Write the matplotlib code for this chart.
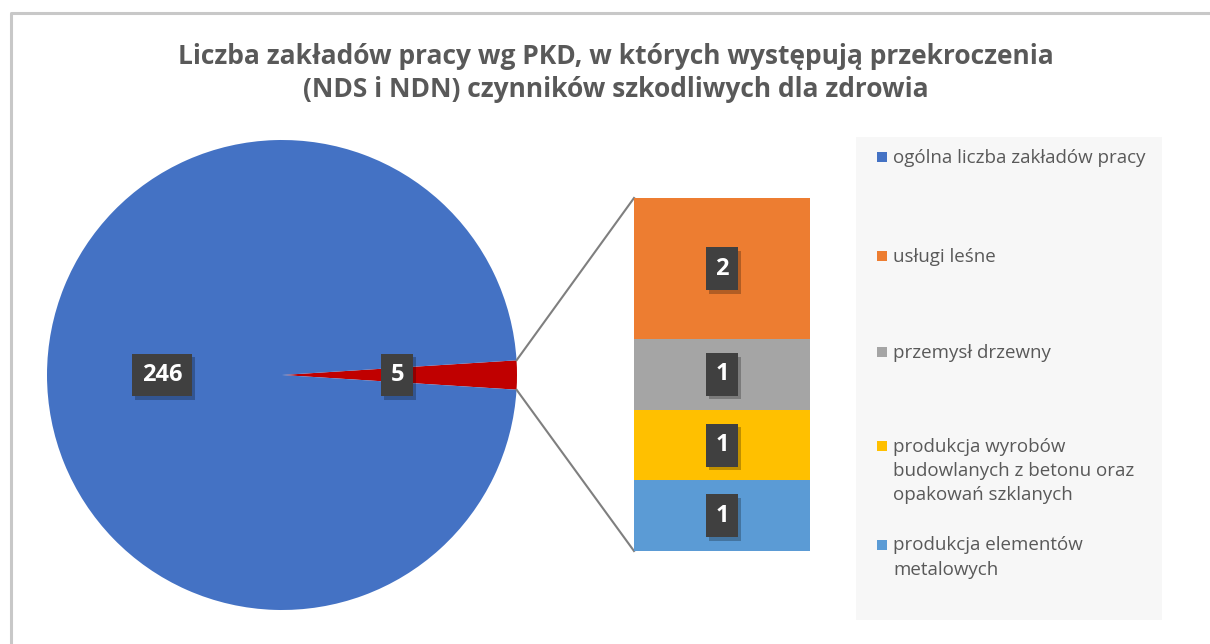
import numpy as np
import matplotlib.pyplot as plt
from matplotlib.patches import Rectangle
from matplotlib.lines import Line2D
import matplotlib.patheffects as pe

plt.rcParams["font.family"] = ["Open Sans", "DejaVu Sans"]

# --- dane ---
pie_labels = ["ogólna liczba zakładów pracy", "pozostałe"]
pie_values = [246, 5]

bar_labels = ["usługi leśne", "przemysł drzewny",
              "produkcja wyrobów\nbudowlanych z betonu oraz\nopakowań szklanych",
              "produkcja elementów\nmetalowych"]
bar_values = [2, 1, 1, 1]

title = ("Liczba zakładów pracy wg PKD, w których występują przekroczenia\n"
         "(NDS i NDN) czynników szkodliwych dla zdrowia")

PIE_COLORS = ["#4472C4", "#C00000"]
BAR_COLORS = ["#ED7D31", "#A5A5A5", "#FFC000", "#5B9BD5"]
TXT = "#595959"

W, H = 1210, 644
fig = plt.figure(figsize=(W / 100, H / 100), dpi=100)
ax = fig.add_axes([0, 0, 1, 1])

# ramka wykresu (góra + lewa)
ax.add_line(Line2D([10.5, 10.5, W], [0, H - 13, H - 13], color="#c8c8c8", lw=2.2))

def label_box(t):
    t.get_bbox_patch().set_path_effects([
        pe.SimplePatchShadow(offset=(2, -2.5), shadow_rgbFace="black", alpha=0.25),
        pe.Normal()])

# --- koło ---
cx, cy, r = 282, H - 375, 235
share = pie_values[1] / sum(pie_values) * 360
wedges, _ = ax.pie(pie_values[::-1], colors=PIE_COLORS[::-1], center=(cx, cy),
                   radius=r, startangle=-share / 2, frame=True,
                   wedgeprops=dict(linewidth=0))
ax.set_xlim(0, W)
ax.set_ylim(0, H)
ax.set_aspect("equal")
ax.axis("off")

lab_kw = dict(ha="center", va="center", color="white", fontsize=17,
              fontweight="bold",
              bbox=dict(boxstyle="square,pad=0.4", fc="#404040", ec="none"))
t = ax.text(cx - 0.51 * r, cy, str(pie_values[0]), **lab_kw)
label_box(t)
t = ax.text(cx + 0.49 * r, cy, str(pie_values[1]), **lab_kw)
label_box(t)

# --- słupek ---
bx0, by0, bw, bh = 634, H - 551, 176, 353
bax = fig.add_axes([bx0 / W, by0 / H, bw / W, bh / H])
bax.set_xlim(-0.5, 0.5)
bax.set_ylim(0, sum(bar_values))
bax.axis("off")
bottom = 0
for lab, v, c in zip(bar_labels[::-1], bar_values[::-1], BAR_COLORS[::-1]):
    bax.bar(0, v, bottom=bottom, width=1.0, color=c, linewidth=0)
    t = bax.text(0, bottom + v / 2, str(v), **lab_kw)
    label_box(t)
    bottom += v

# linie łączące
a = np.deg2rad(share / 2)
px, py = cx + r * np.cos(a), r * np.sin(a)
ax.plot([px, bx0], [cy + py, by0 + bh], color="#7f7f7f", lw=1.5)
ax.plot([px, bx0], [cy - py, by0], color="#7f7f7f", lw=1.5)

# --- tytuł ---
ax.text(616, H - 73, title, ha="center", va="center", fontsize=19,
        fontweight="bold", color=TXT, linespacing=1.3)

# --- legenda ---
ax.add_patch(Rectangle((856, H - 620), 306, 483, fc="#f7f7f7", ec="none"))
leg_names = [pie_labels[0]] + bar_labels
leg_colors = [PIE_COLORS[0]] + BAR_COLORS
leg_y = [157, 256, 352, 446, 545]
for name, c, y in zip(leg_names, leg_colors, leg_y):
    ax.add_patch(Rectangle((877, H - y - 5), 10, 10, fc=c, ec="none"))
    ax.text(893, H - y + 8.5, name, ha="left", va="top",
            fontsize=13.5, color=TXT, linespacing=1.44)

fig.savefig("out.png", dpi=100)
